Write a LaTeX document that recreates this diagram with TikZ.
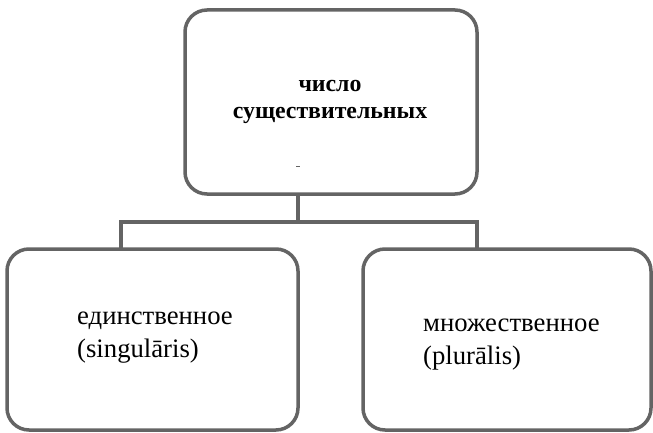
\documentclass[tikz,border=0pt]{standalone}
\usepackage{fontspec}
\setmainfont{Liberation Serif}
\definecolor{linegray}{RGB}{100,100,100}
\tikzset{
  box/.style={draw=linegray, line width=3.5pt, rounded corners=22pt, rectangle, outer sep=0pt, inner sep=0pt},
  conn/.style={draw=linegray, line width=3.5pt},
  boldtxt/.style={font=\fontsize{23.8}{27}\selectfont\bfseries, inner sep=0pt, anchor=base},
  regtxt/.style={font=\fontsize{26.7}{32}\selectfont, inner sep=0pt, anchor=base west}
}
\begin{document}
\begin{tikzpicture}[x=1pt,y=1pt]
\useasboundingbox (0,0) rectangle (653,432);
\node[box, minimum width=292pt, minimum height=184pt] (T) at (331,330) {};
\node[box, minimum width=291pt, minimum height=181pt] (L) at (152.5,92.5) {};
\node[box, minimum width=288pt, minimum height=181pt] (R) at (507,92.5) {};
\node[boldtxt] (t1) at (330,340) {число};
\node[boldtxt] (t2) at (330,313) {существительных};
\draw[linegray, line width=1pt] (296,266) -- (300,266);
\node[regtxt] (l1) at (77,108) {единственное};
\node[regtxt] (l2) at (77,75) {(singulāris)};
\node[regtxt] (r1) at (423,101) {множественное};
\node[regtxt] (r2) at (423,68) {(plurālis)};
\coordinate (j) at (298,210);
\coordinate (ja) at (121,210);
\coordinate (jb) at (477,210);
\draw[conn] (T.south -| j) -- (j);
\draw[conn] (ja |- L.north) -- (ja) -- (jb) -- (jb |- R.north);
\end{tikzpicture}
\end{document}
